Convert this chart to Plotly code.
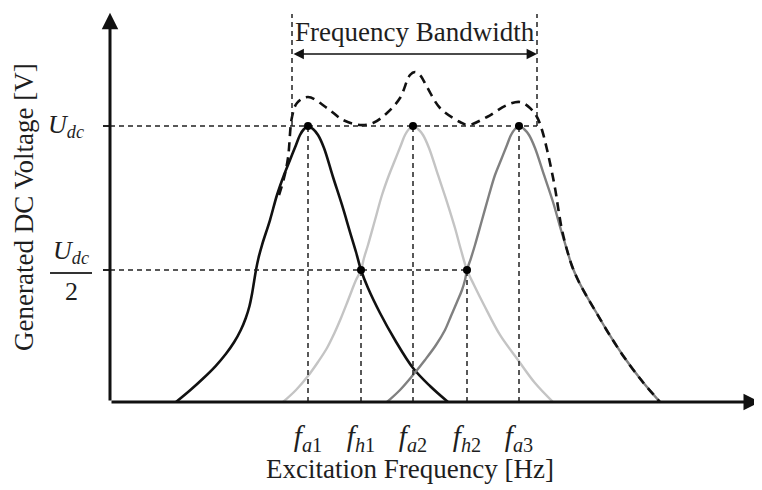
import plotly.graph_objects as go

# ---------------- data (frequency in arbitrary units, voltage in % of Udc) -------------
udc = 100.0
udc_half = 47.8          # level drawn for Udc/2 in the reference
f_a = [19.8, 30.3, 40.9]  # resonance frequencies fa1, fa2, fa3
f_h = [25.1, 35.7]        # crossing frequencies fh1, fh2
bw_low, bw_high = 18.2, 42.7

curve1_x = [6.6, 8.04, 9.36, 10.56, 11.58, 12.42, 13.08, 13.58, 13.95, 14.2, 14.4, 14.6, 14.85, 15.2,
            16.0, 16.7, 17.4, 18.0, 18.6, 19.0, 19.4, 19.8,
            20.3, 20.8, 21.4, 22.3, 23.2, 24.0, 24.6, 25.1, 25.8, 27.0, 28.5, 30.3, 32.0, 33.8]
curve1_y = [0, 4.35, 8.70, 13.04, 17.39, 21.74, 26.09, 30.43, 34.78, 39.13, 43.48, 47.83, 52.17, 56.88,
            65.94, 75.0, 82.25, 87.68, 93.12, 96.74, 98.91, 100,
            98.91, 96.74, 92.03, 81.52, 71.38, 61.59, 54.35, 47.83, 41.30, 32.25, 22.46, 12.32, 5.80, 0]

curve2_x = [17.3, 18.6, 19.8, 20.8, 21.7, 22.4, 23.1, 23.7, 24.2, 24.6, 25.1, 25.4, 25.8, 26.5, 27.2,
            27.9, 28.5, 29.1, 29.5, 29.9, 30.3,
            30.8, 31.3, 31.9, 32.8, 33.7, 34.5, 35.1, 35.7, 36.4, 37.4, 39.0, 40.8, 42.5, 44.3]
curve2_y = [0, 4.35, 9.42, 14.49, 19.57, 24.64, 30.43, 35.87, 40.58, 44.20, 47.83, 52.17, 56.88, 65.94, 75.0,
            82.25, 87.68, 93.12, 96.74, 98.91, 100,
            98.91, 96.74, 92.03, 82.25, 72.46, 63.04, 55.07, 47.83, 42.39, 35.14, 24.28, 15.22, 6.88, 0]

curve3_x = [27.7, 29.0, 30.3, 31.5, 32.6, 33.5, 34.1, 34.7, 35.2, 35.5, 35.7, 36.1, 36.5, 37.2, 37.9,
            38.5, 39.1, 39.7, 40.1, 40.5, 40.9,
            41.4, 41.9, 42.5, 43.4, 44.3, 45.1, 45.7, 46.2, 46.8, 47.6, 48.6, 49.9, 51.4, 53.2, 55.0]
curve3_y = [0, 4.35, 9.78, 15.22, 20.65, 26.09, 31.16, 36.23, 40.58, 44.20, 47.83, 52.17, 56.88, 65.94, 75.0,
            82.25, 87.68, 93.12, 96.74, 98.91, 100,
            98.91, 96.74, 92.03, 82.25, 72.46, 62.32, 55.07, 49.28, 44.20, 38.77, 32.61, 24.64, 16.30, 7.61, 0]

env_x = [16.9, 17.4, 17.8, 18.2, 18.7, 19.8, 21.7, 23.3, 25.0, 26.3, 27.7, 29.0, 30.0, 30.5, 31.0,
         31.7, 33.0, 35.0, 35.8, 37.7, 39.7, 41.0, 42.0, 42.7, 43.2, 43.7, 44.15, 44.55, 44.85, 45.2,
         45.7, 46.2, 46.8, 47.6, 48.6, 49.9, 51.4, 53.2, 55.0]
env_y = [75.0, 81.16, 88.41, 103.26, 108.33, 110.51, 106.52, 102.17, 100.36, 101.09, 104.71, 110.14,
         118.48, 119.57, 118.48, 114.13, 106.52, 101.45, 100.36, 103.26, 107.61, 108.70, 106.52, 103.26,
         98.55, 91.5, 84.0, 76.5, 69.5, 62.32, 55.07, 49.28, 44.20, 38.77, 32.61, 24.64, 16.30, 7.61, 0]

tick_text = ["<i>f</i><sub><i>a</i>1</sub>", "<i>f</i><sub><i>h</i>1</sub>",
             "<i>f</i><sub><i>a</i>2</sub>", "<i>f</i><sub><i>h</i>2</sub>",
             "<i>f</i><sub><i>a</i>3</sub>"]

x_title = "Excitation Frequency [Hz]"
y_title = "Generated DC Voltage [V]"
bw_label = "Frequency Bandwidth"

x_min, x_max = 0.0, 65.2
y_max = 142.03

SERIF = "Liberation Serif, Times New Roman, serif"
TXT = "#1e1e1e"
SMOOTH = 1.0

fig = go.Figure()

fig.add_trace(go.Scatter(x=curve1_x, y=curve1_y, mode="lines", line=dict(color="#111111", width=2.6, shape="spline", smoothing=SMOOTH), hoverinfo="skip"))
fig.add_trace(go.Scatter(x=curve2_x, y=curve2_y, mode="lines", line=dict(color="#c4c4c4", width=2.4, shape="spline", smoothing=SMOOTH), hoverinfo="skip"))
fig.add_trace(go.Scatter(x=curve3_x, y=curve3_y, mode="lines", line=dict(color="#808080", width=2.4, shape="spline", smoothing=SMOOTH), hoverinfo="skip"))
fig.add_trace(go.Scatter(x=env_x, y=env_y, mode="lines", line=dict(color="#111111", width=2.6, dash="9px,6px", shape="spline", smoothing=SMOOTH), hoverinfo="skip"))

ref_line = dict(color="#222", width=1.5, dash="5px,4px")
# horizontal reference lines
fig.add_trace(go.Scatter(x=[x_min, bw_high], y=[udc, udc], mode="lines", line=ref_line, hoverinfo="skip"))
fig.add_trace(go.Scatter(x=[x_min, f_h[1]], y=[udc_half, udc_half], mode="lines", line=ref_line, hoverinfo="skip"))
# vertical reference lines
for fx in f_a:
    fig.add_trace(go.Scatter(x=[fx, fx], y=[0, udc], mode="lines", line=ref_line, hoverinfo="skip"))
for fx in f_h:
    fig.add_trace(go.Scatter(x=[fx, fx], y=[0, udc_half], mode="lines", line=ref_line, hoverinfo="skip"))
for fx in [bw_low, bw_high]:
    fig.add_trace(go.Scatter(x=[fx, fx], y=[udc, 140.6], mode="lines", line=ref_line, hoverinfo="skip"))

# markers
fig.add_trace(go.Scatter(x=f_a + f_h, y=[udc] * 3 + [udc_half] * 2, mode="markers",
                         marker=dict(color="black", size=8), hoverinfo="skip"))

# axes with arrows
fig.add_annotation(x=x_min, y=141.0, ax=x_min, ay=0, xref="x", yref="y", axref="x", ayref="y",
                   text="", showarrow=True, arrowhead=2, arrowsize=1.1, arrowwidth=3, arrowcolor="#111")
fig.add_annotation(x=65.0, y=0, ax=x_min, ay=0, xref="x", yref="y", axref="x", ayref="y",
                   text="", showarrow=True, arrowhead=2, arrowsize=1.1, arrowwidth=3, arrowcolor="#111")
# bandwidth double arrow
fig.add_annotation(x=bw_high, y=126.1, ax=bw_low, ay=126.1, xref="x", yref="y", axref="x", ayref="y",
                   text="", showarrow=True, arrowhead=2, arrowside="end+start", arrowsize=1.3, arrowwidth=1.6, arrowcolor="#111")
fig.add_annotation(x=(bw_low + bw_high) / 2, y=134.1, xref="x", yref="y", text=bw_label, showarrow=False,
                   xanchor="center", yanchor="middle", font=dict(family=SERIF, size=27, color=TXT))

# axis titles
fig.add_annotation(x=30.0, y=-0.171, xref="x", yref="paper", text=x_title, showarrow=False,
                   xanchor="center", yanchor="middle", font=dict(family=SERIF, size=27, color=TXT))
fig.add_annotation(x=-0.132, y=70.65, xref="paper", yref="y", text=y_title, showarrow=False, textangle=-90,
                   xanchor="center", yanchor="middle", font=dict(family=SERIF, size=27, color=TXT))

# y level labels
fig.add_annotation(x=-0.0675, y=udc, xref="paper", yref="y", text="<i>U<sub>dc</sub></i>", showarrow=False,
                   xanchor="center", yanchor="middle", font=dict(family=SERIF, size=26, color=TXT))
fig.add_annotation(x=-0.0598, y=54.5, xref="paper", yref="y", text="<i>U<sub>dc</sub></i>", showarrow=False,
                   xanchor="center", yanchor="middle", font=dict(family=SERIF, size=26, color=TXT))
fig.add_annotation(x=-0.0598, y=40.2, xref="paper", yref="y", text="2", showarrow=False,
                   xanchor="center", yanchor="middle", font=dict(family=SERIF, size=26, color=TXT))
fig.add_shape(type="line", xref="paper", yref="y", x0=-0.092, x1=-0.0276, y0=46.7, y1=46.7,
              line=dict(color="#333", width=2))

# the page body adds an 8 px offset, so the figure is sized 8 px smaller than the window
fig.update_layout(
    width=754, height=482,
    margin=dict(l=102, r=0, t=2, b=88),
    paper_bgcolor="white", plot_bgcolor="white",
    showlegend=False,
    xaxis=dict(range=[x_min, x_max], showgrid=False, zeroline=False, showline=False,
               tickvals=f_a[:1] + f_h[:1] + f_a[1:2] + f_h[1:] + f_a[2:], ticktext=tick_text,
               ticks="", ticklabelstandoff=14,
               tickfont=dict(family=SERIF, size=29, color=TXT), fixedrange=True),
    yaxis=dict(range=[0, y_max], showgrid=False, zeroline=False, showline=False,
               tickvals=[udc, udc_half], ticks="outside", ticklen=6, tickwidth=1.5, tickcolor="#222",
               showticklabels=False, fixedrange=True),
)

fig.write_html("out.html")
